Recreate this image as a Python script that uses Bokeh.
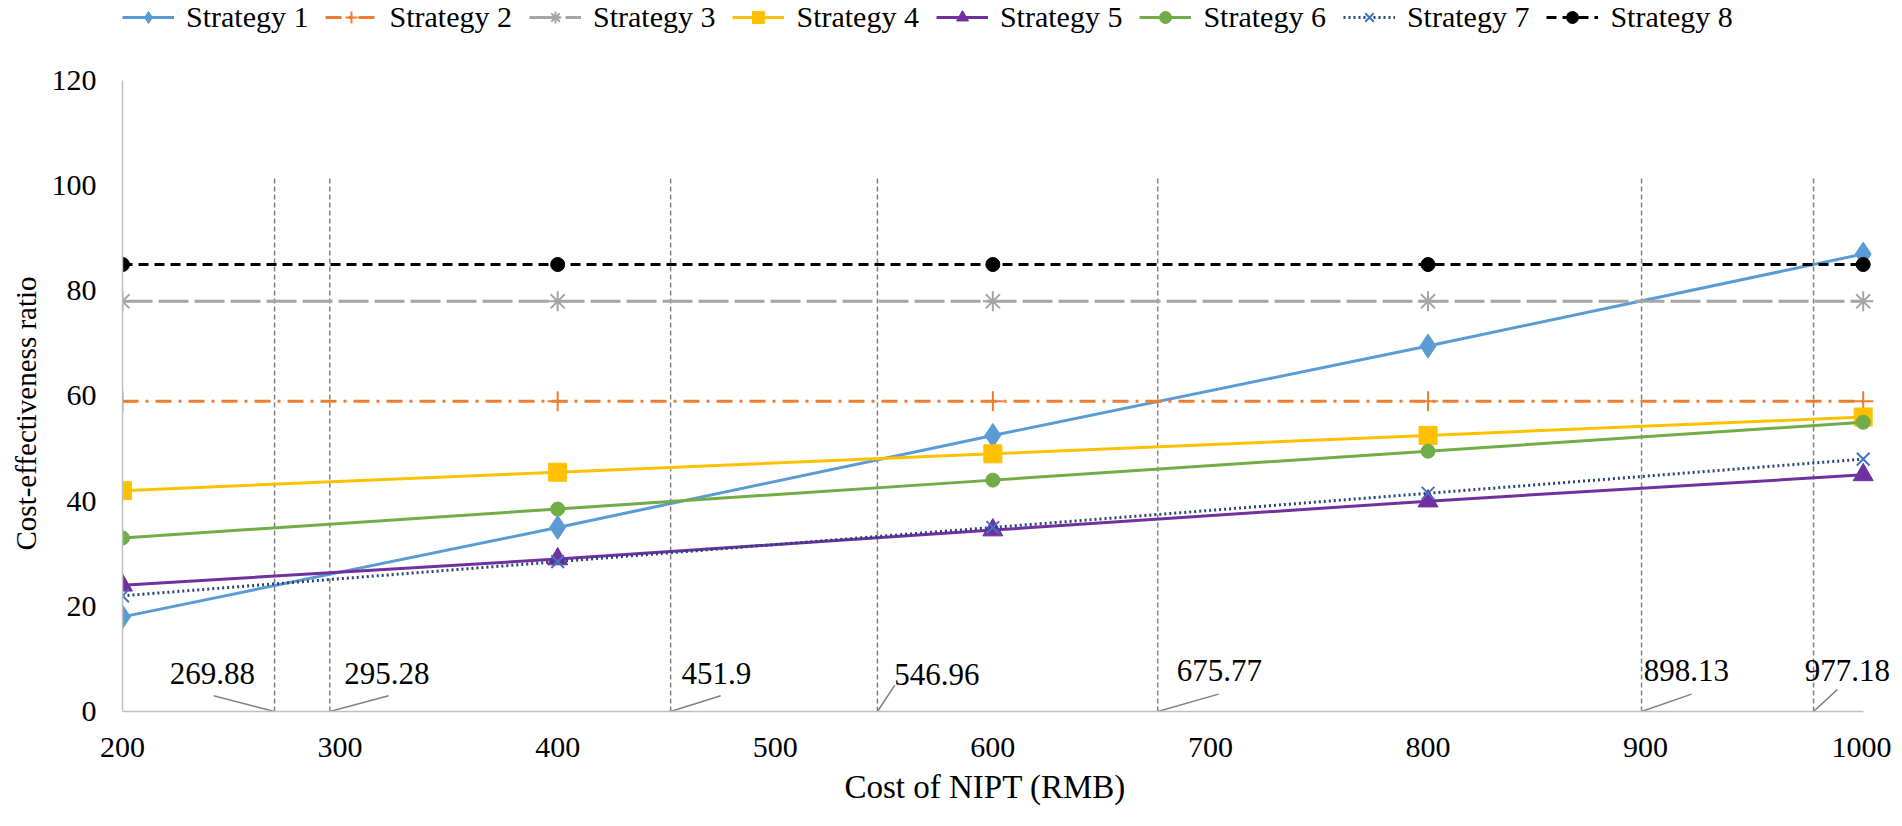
from bokeh.plotting import figure
from bokeh.models import (Legend, LegendItem, FixedTicker, Range1d, ColumnDataSource,
                          LabelSet, Title)
from bokeh.embed import file_html
from bokeh.resources import INLINE

# ---------------- data ----------------
cost = [200, 400, 600, 800, 1000]
strategy_names = ["Strategy 1", "Strategy 2", "Strategy 3", "Strategy 4",
                  "Strategy 5", "Strategy 6", "Strategy 7", "Strategy 8"]
s1 = [18, 35, 52.5, 69.5, 87]
s2 = [59, 59, 59, 59, 59]
s3 = [78, 78, 78, 78, 78]
s4 = [42, 45.5, 49, 52.5, 56]
s5 = [24, 29, 34.5, 40, 45]
s6 = [33, 38.5, 44, 49.5, 55]
s7 = [22, 28.5, 35, 41.5, 48]
s8 = [85, 85, 85, 85, 85]
thresholds = [269.88, 295.28, 451.9, 546.96, 675.77, 898.13, 977.18]
threshold_labels = ["269.88", "295.28", "451.9", "546.96", "675.77", "898.13", "977.18"]
x_ticks = [200, 300, 400, 500, 600, 700, 800, 900, 1000]
y_ticks = [0, 20, 40, 60, 80, 100, 120]

# ---------------- styles ----------------
FONT = "Liberation Serif"
series = [
    (s1, "#5B9BD5", "solid", "diamond", 24),
    (s2, "#ED7D31", "16 7 3 7", "cross", 20),
    (s3, "#A5A5A5", "30 6", "asterisk", 20),
    (s4, "#FFC000", "solid", "square", 18),
    (s5, "#7030A0", "solid", "triangle", 20),
    (s6, "#70AD47", "solid", "circle", 14),
    (s7, "#264478", "2 3", "x", 18),
    (s8, "#000000", "10 6", "circle", 14),
]
s7_marker_color = "#4472C4"

# the frame is extended above 120 (legend room) and a little right of 1000
# (room for the last threshold label); axes are bounded to the data span
Y_TOP = 135.21
X_END = 1013
p = figure(output_backend="svg", toolbar_location=None,
           x_range=Range1d(200, X_END), y_range=Range1d(0, Y_TOP),
           min_border_left=60, min_border_right=0,
           min_border_top=0, min_border_bottom=20)
p.frame_width = 1769
p.frame_height = 711
p.outline_line_color = None
p.xgrid.visible = False
p.ygrid.visible = False
p.background_fill_color = "white"

for ax in (p.xaxis[0], p.yaxis[0]):
    ax.axis_line_color = "#BFBFBF"
    ax.axis_line_width = 1.5
    ax.major_tick_line_color = None
    ax.minor_tick_line_color = None
    ax.major_label_text_font = FONT
    ax.major_label_text_font_size = "30px"
    ax.major_label_text_color = "#000000"

p.yaxis.bounds = (0, 120)
p.xaxis.bounds = (200, 1000)
p.xaxis.ticker = FixedTicker(ticks=x_ticks)
p.yaxis.ticker = FixedTicker(ticks=y_ticks)
p.xaxis.major_label_standoff = 20
p.yaxis.major_label_standoff = 20

ytitle = Title(text="Cost-effectiveness ratio", align="left", offset=161,
               text_font=FONT, text_font_size="29px", text_font_style="normal",
               text_color="#000000", standoff=14)
p.add_layout(ytitle, "left")
xtitle = Title(text="Cost of NIPT (RMB)", align="left", offset=722,
               text_font=FONT, text_font_size="33px", text_font_style="normal",
               text_color="#000000", standoff=15)
p.add_layout(xtitle, "below")

# threshold vertical dashed lines
p.segment(x0=thresholds, y0=[0] * len(thresholds), x1=thresholds, y1=[101.5] * len(thresholds),
          line_color="#808080", line_dash="5 3", line_width=1.5)

# leader lines and labels (offsets are layout only)
lead_dx = [-28, 27, 23, 8, 28, 23, 11]
lead_dy = [3.0, 3.0, 3.0, 5.0, 3.3, 3.3, 4.2]
lab_dx = [-9, 6.6, 5, 7.7, 8.8, 1, -4]
lab_align = ["right", "left", "left", "left", "left", "left", "left"]
lab_y = [7.2, 7.2, 7.2, 7.0, 7.8, 7.8, 7.8]
p.segment(x0=thresholds, y0=[0] * len(thresholds),
          x1=[t + d for t, d in zip(thresholds, lead_dx)], y1=lead_dy,
          line_color="#808080", line_width=1.5)
lab_src = ColumnDataSource(dict(
    x=[t + d for t, d in zip(thresholds, lab_dx)], y=lab_y,
    text=threshold_labels, align=lab_align))
p.add_layout(LabelSet(x="x", y="y", text="text", source=lab_src, text_align="align",
                      text_baseline="middle", text_font=FONT, text_font_size="31px",
                      text_color="#000000"))

items = []
for i, (vals, color, dash, marker, size) in enumerate(series):
    lr = p.line(cost, vals, line_color=color, line_width=3, line_dash=dash)
    mcolor = s7_marker_color if i == 6 else color
    if marker in ("cross", "asterisk", "x"):
        sr = p.scatter(cost, vals, marker=marker, size=size, line_color=mcolor,
                       line_width=2, fill_color=None)
    else:
        sr = p.scatter(cost, vals, marker=marker, size=size, line_color=mcolor,
                       fill_color=mcolor, line_width=1)
    items.append(LegendItem(label=strategy_names[i], renderers=[lr, sr]))

legend = Legend(items=items, orientation="horizontal", location="top_left",
                label_text_font=FONT, label_text_font_size="30px",
                label_text_color="#000000", glyph_width=52, glyph_height=30,
                label_standoff=12, spacing=17, padding=0, margin=0,
                border_line_color=None, background_fill_alpha=0)
p.add_layout(legend, "center")

open("out.html", "w").write(file_html(p, INLINE))
